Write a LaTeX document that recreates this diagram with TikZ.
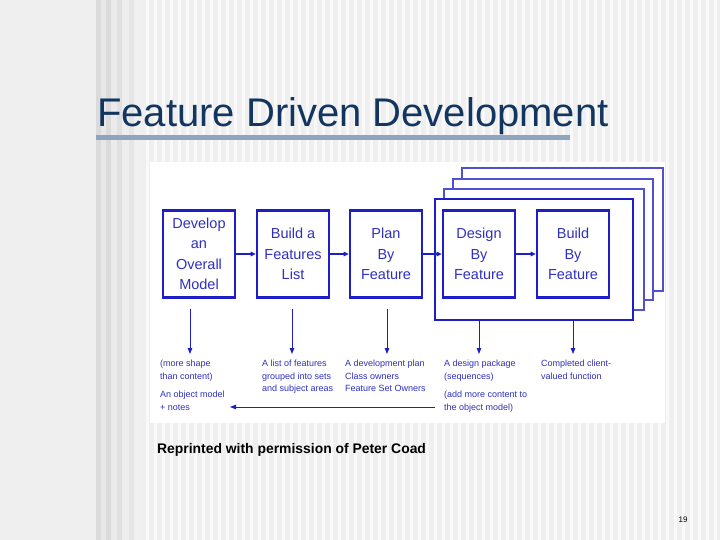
\documentclass[tikz,border=0pt]{standalone}
\usepackage{fontspec}
\setmainfont{Liberation Sans}
\usetikzlibrary{arrows.meta,positioning}
\definecolor{bgc}{HTML}{EFEFEF}
\definecolor{titlec}{HTML}{123660}
\definecolor{barc}{HTML}{8FA5BF}
\definecolor{bl}{HTML}{1E1EC8}
\definecolor{blt}{HTML}{3030C0}
\definecolor{blf}{HTML}{5050D0}
\begin{document}
\begin{tikzpicture}[x=1pt,y=-1pt,
  stepbox/.style={draw=bl,line width=2.6pt,fill=white,minimum width=72pt,minimum height=87pt,
    align=center,text=blt,font=\fontsize{14.5}{20.5}\selectfont,inner sep=0pt},
  flow/.style={draw=bl,line width=1.1pt,-{Triangle[length=5pt,width=4.5pt]}},
  down/.style={draw=bl,line width=0.9pt,-{Triangle[length=6pt,width=4.5pt]}},
  desc/.style={anchor=north west,align=left,text=blt,inner sep=0pt,
    font=\fontsize{9}{12.6}\selectfont},
  backframe/.style={draw=blf,line width=1.1pt,fill=white},
]
\useasboundingbox (0,0) rectangle (720,540);
% background
\fill[bgc] (0,0) rectangle (720,540);
\foreach \x in {146,154,162,...,714} {\fill[white!60!bgc] (\x,0) rectangle (\x+3,540);}
\fill[black!14] (96,0) rectangle (101,540);
\fill[black!9] (101,0) rectangle (106,540);
\fill[black!14] (106,0) rectangle (111,540);
\fill[black!8] (111,0) rectangle (117,540);
\fill[black!12] (117,0) rectangle (122,540);
\fill[black!7] (122,0) rectangle (129,540);
\fill[black!10] (129,0) rectangle (134,540);
\fill[black!6] (134,0) rectangle (141,540);
% title
\node[anchor=base west,inner sep=0pt,text=titlec,font=\fontsize{40}{42}\selectfont] (title) at (97,127) {Feature Driven Development};
\fill[barc] (96,135) rectangle (570,140);
% diagram panel
\fill[white] (150,162) rectangle (665,423);
% stacked frames
\draw[backframe] (462,168) rectangle (663,291);
\draw[backframe] (453,179) rectangle (653,300);
\draw[backframe] (444,189) rectangle (644,310);
\draw[draw=bl,line width=1.4pt,fill=white] (435,199) rectangle (633,320);
\draw[draw=bl,line width=2.4pt] (435,320) -- (633,320) -- (633,199);
\coordinate (fb4) at (479,320);
\coordinate (fb5) at (573,320);
% boxes
\node[stepbox] (b1) at (199,254) {Develop\\an\\Overall\\Model};
\node[stepbox] (b2) at (293,254) {Build a\\Features\\List};
\node[stepbox] (b3) at (386,254) {Plan\\By\\Feature};
\node[stepbox] (b4) at (479,254) {Design\\By\\Feature};
\node[stepbox] (b5) at (573,254) {Build\\By\\Feature};
\draw[flow] (b1) -- (b2);
\draw[flow] (b2) -- (b3);
\draw[flow] (b3) -- (b4);
\draw[flow] (b4) -- (b5);
% descriptions
\node[desc] (d1) at (160,360) {(more shape\\than content)};
\node[desc] (d1b) at (160,391) {An object model\\+ notes};
\node[desc] (d2) at (262,360) {A list of features\\grouped into sets\\and subject areas};
\node[desc] (d3) at (345,360) {A development plan\\Class owners\\Feature Set Owners};
\node[desc] (d4) at (444,360) {A design package\\(sequences)};
\node[desc] (d4b) at (444,391) {(add more content to\\the object model)};
\node[desc] (d5) at (541,360) {Completed client-\\valued function};
\coordinate (t1) at (190,354);
\coordinate (t2) at (292,354);
\coordinate (t3) at (387,354);
\coordinate (t4) at (479,354);
\coordinate (t5) at (573,354);
\coordinate (lf) at (435,407);
\coordinate (lt) at (230,407);
\draw[down] (190,309) -- (t1);
\draw[down] (292,309) -- (t2);
\draw[down] (387,309) -- (t3);
\draw[down] (fb4) -- (t4);
\draw[down] (fb5) -- (t5);
\draw[down] (lf) -- (lt);
% caption
\node[anchor=base west,inner sep=0pt,font=\bfseries\fontsize{13.9}{15}\selectfont] (cap) at (157,453) {Reprinted with permission of Peter Coad};
\node[anchor=base,inner sep=0pt,font=\fontsize{8}{9}\selectfont] (pg) at (683,522) {19};
\end{tikzpicture}
\end{document}
